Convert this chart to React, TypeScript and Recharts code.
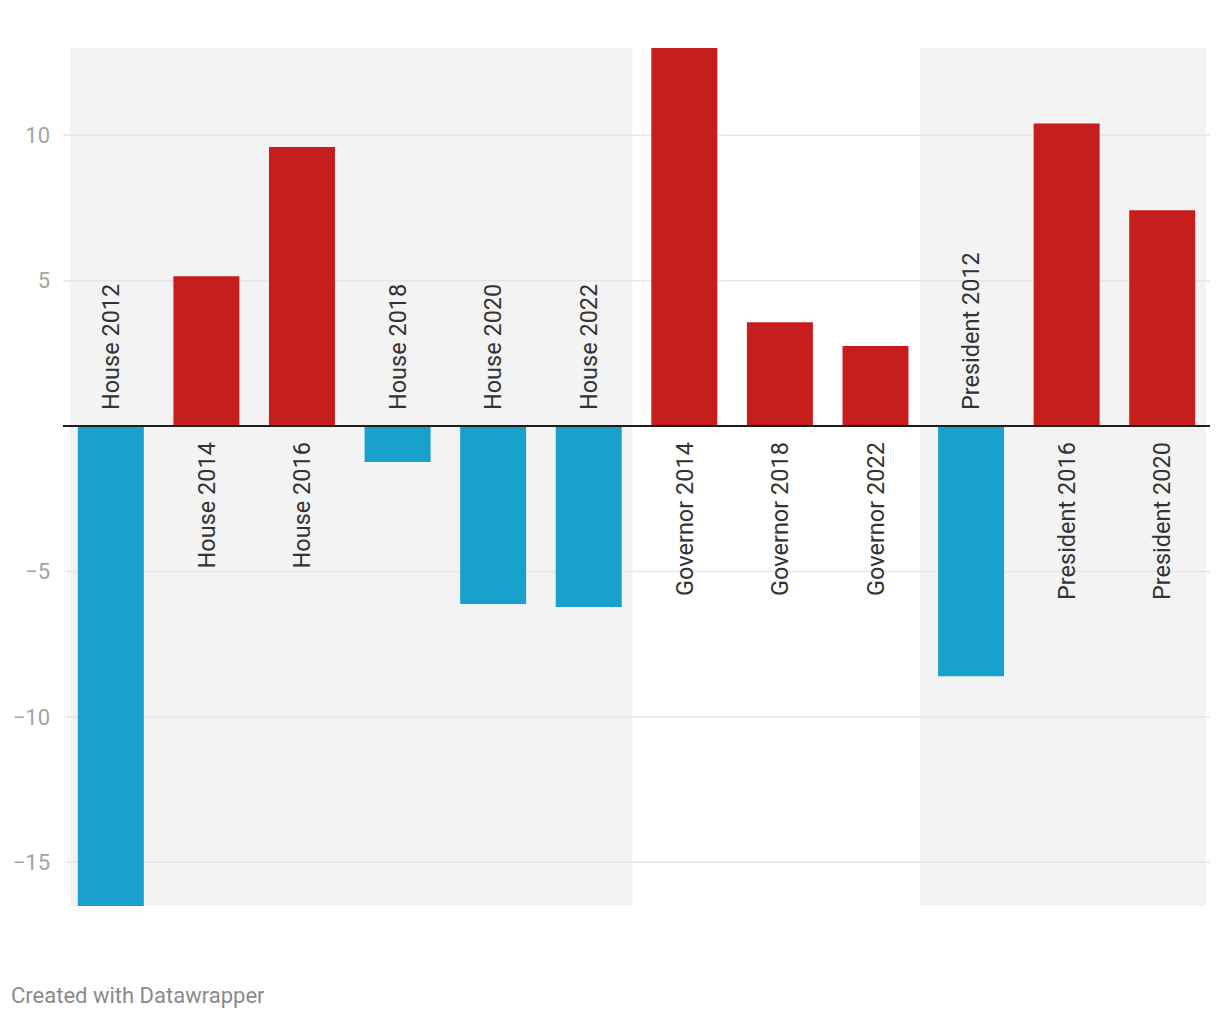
import * as React from "react";
import {
  BarChart,
  Bar,
  Cell,
  XAxis,
  YAxis,
  ReferenceArea,
  ReferenceLine,
  LabelList,
} from "recharts";

const races = [
  "House 2012",
  "House 2014",
  "House 2016",
  "House 2018",
  "House 2020",
  "House 2022",
  "Governor 2014",
  "Governor 2018",
  "Governor 2022",
  "President 2012",
  "President 2016",
  "President 2020",
];

// margin (positive = red, negative = blue)
const margins = [-16.5, 5.15, 9.6, -1.23, -6.12, -6.22, 13.0, 3.57, 2.75, -8.6, 10.4, 7.42];

const yTicks = [-15, -10, -5, 5, 10];

const RED = "#c71e1d";
const BLUE = "#18a1cd";
const FONT = "Roboto, 'Noto Sans', sans-serif";

const data = races.map((race, i) => ({ race, value: margins[i] }));

function Band(props: any) {
  const { x, y, width, height, inL, inR } = props;
  return <rect x={x + inL} y={y} width={width - inL - inR} height={height} fill="#f3f3f3" />;
}

function RaceLabel(props: any) {
  const { x, y, width, height, value, index } = props;
  const cx = x + width / 2;
  const top = Math.min(y, y + height);
  const bottom = Math.max(y, y + height);
  const pos = value >= 0;
  const ly = pos ? bottom + 16 : top - 16;
  return (
    <text
      x={cx}
      y={ly}
      dy="0.35em"
      transform={`rotate(-90, ${cx}, ${ly})`}
      textAnchor={pos ? "end" : "start"}
      fontFamily={FONT}
      fontSize={23.5}
      fill="#333333"
    >
      {races[index]}
    </text>
  );
}

export default function App() {
  return (
    <div style={{ position: "absolute", left: 0, top: 0, width: 1220, height: 1020, background: "#fff" }}>
      <BarChart
        width={1220}
        height={1020}
        data={data}
        margin={{ top: 48, right: 10, bottom: 114, left: 0 }}
        barCategoryGap="15.5%"
      >
        {/* shaded groups sit under the gridlines, gridlines under the bars */}
        <ReferenceArea
          zIndex={-90}
          x1="House 2012"
          x2="House 2022"
          fill="#f3f3f3"
          fillOpacity={1}
          shape={(p: any) => <Band {...p} inL={7} inR={4} />}
        />
        <ReferenceArea
          zIndex={-90}
          x1="President 2012"
          x2="President 2020"
          fill="#f3f3f3"
          fillOpacity={1}
          shape={(p: any) => <Band {...p} inL={-3} inR={4} />}
        />
        {yTicks.map((t) => (
          <ReferenceLine key={t} zIndex={-80} y={t} stroke="#e6e6e6" strokeWidth={1.5} />
        ))}
        <XAxis dataKey="race" hide />
        <YAxis
          width={63}
          domain={[-16.5, 13]}
          ticks={yTicks}
          interval={0}
          axisLine={false}
          tickLine={false}
          tickSize={0}
          tickMargin={13}
          tick={{ fill: "#a3a3a3", fontSize: 22, fontFamily: FONT }}
          tickFormatter={(v: number) => (v < 0 ? `\u2212${Math.abs(v)}` : `${v}`)}
        />
        <Bar dataKey="value" isAnimationActive={false}>
          {data.map((d, i) => (
            <Cell key={i} fill={d.value >= 0 ? RED : BLUE} />
          ))}
          <LabelList dataKey="value" content={<RaceLabel />} />
        </Bar>
        <ReferenceLine y={0} stroke="#1d1d1d" strokeWidth={2} />
      </BarChart>
      <div
        style={{
          position: "absolute",
          left: 11,
          top: 985,
          fontFamily: FONT,
          fontSize: 22,
          lineHeight: "22px",
          color: "#8a8a8a",
        }}
      >
        Created with Datawrapper
      </div>
    </div>
  );
}
